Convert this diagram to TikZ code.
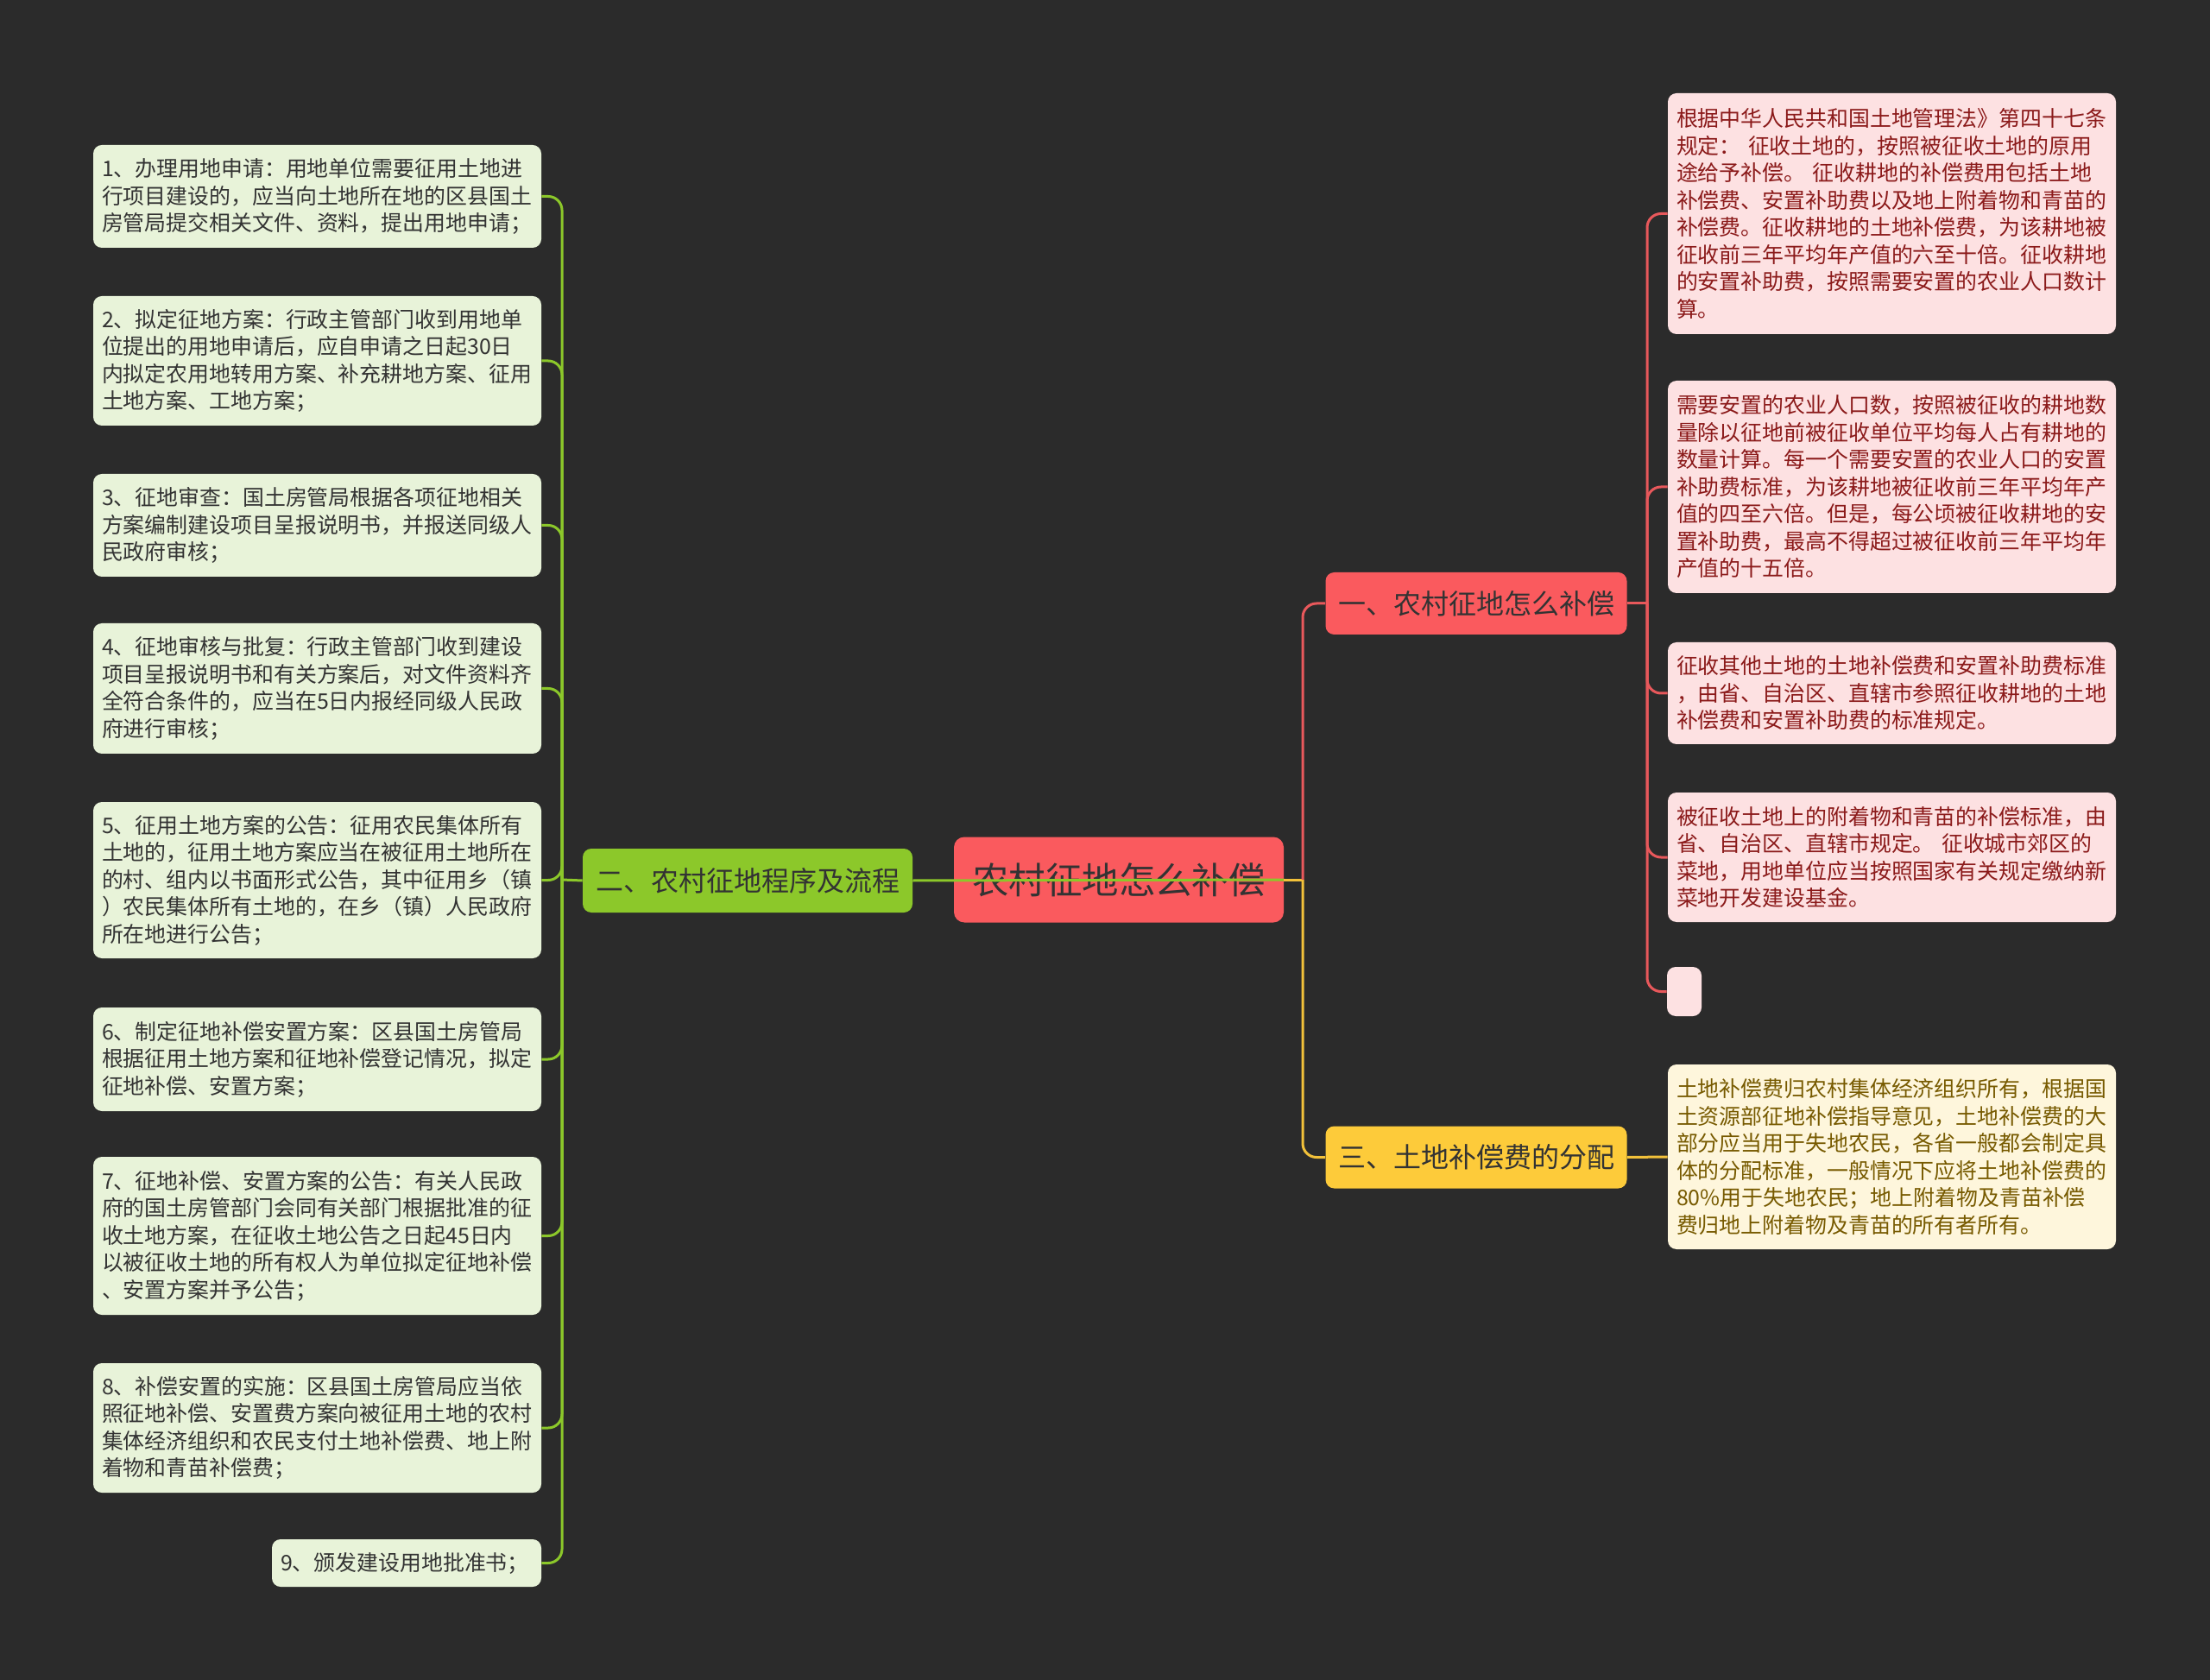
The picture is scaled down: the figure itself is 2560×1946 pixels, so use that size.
\documentclass[tikz,border=0pt]{standalone}
\usepackage{fontspec}
\setmainfont{Noto Sans CJK SC}
\definecolor{bgc}{HTML}{2B2B2B}
\definecolor{gmain}{HTML}{8CC82A}
\definecolor{gfill}{HTML}{E8F3D9}
\definecolor{rmain}{HTML}{FA5A5E}
\definecolor{rline}{HTML}{E8585B}
\definecolor{rfill}{HTML}{FDE1E2}
\definecolor{rtext}{HTML}{8B1A1A}
\definecolor{ymain}{HTML}{FDCB3A}
\definecolor{yline}{HTML}{F2C13A}
\definecolor{yfill}{HTML}{FEF6DC}
\definecolor{ytext}{HTML}{775A00}
\definecolor{dtext}{HTML}{333333}
\begin{document}
\begin{tikzpicture}[x=0.5pt,y=-0.5pt,
  leaf/.style={rounded corners=5pt, inner xsep=5pt, inner ysep=0pt, align=left,
    text width=249.5pt, font=\fontsize{12.45}{15.75}\selectfont, anchor=center},
  gleaf/.style={leaf, fill=gfill, text=dtext},
  rleaf/.style={leaf, fill=rfill, text=rtext},
  yleaf/.style={leaf, fill=yfill, text=ytext},
  branch/.style={rounded corners=5pt, inner sep=0pt, minimum width=174.5pt,
    minimum height=36pt, font=\fontsize{16}{19}\selectfont, text=dtext},
  gcon/.style={draw=gmain, line width=1.5pt, rounded corners=8pt},
  rcon/.style={draw=rline, line width=1.5pt, rounded corners=8pt},
  ycon/.style={draw=yline, line width=1.5pt, rounded corners=8pt}]
\useasboundingbox (0,0) rectangle (2560,1946);
\fill[bgc] (0,0) rectangle (2560,1946);

% central node
\node[rounded corners=6pt, fill=rmain, inner sep=0pt, minimum width=191pt, minimum height=49.5pt,
  font=\fontsize{21.2}{24}\selectfont, text=dtext] (c) at (1296,1019) {农村征地怎么补偿};

% junction coordinates
\coordinate (gj) at (651,1019);
\coordinate (cj) at (1509,1019);
\coordinate (rj) at (1908,699);

% branches
\node[branch, fill=gmain, minimum width=191pt, minimum height=37pt] (gb) at (866,1020) {二、农村征地程序及流程};
\node[branch, fill=rmain] (rb) at (1710,699) {一、农村征地怎么补偿};
\node[branch, fill=ymain] (yb) at (1710,1340.5) {三、土地补偿费的分配};

% green leaves
\node[gleaf, minimum height=59.5pt] (g1) at (367.5,227.5) {1、办理用地申请：用地单位需要征用土地进\\行项目建设的，应当向土地所在地的区县国土\\房管局提交相关文件、资料，提出用地申请；};
\node[gleaf, minimum height=75pt] (g2) at (367.5,418) {2、拟定征地方案：行政主管部门收到用地单\\位提出的用地申请后，应自申请之日起30日\\内拟定农用地转用方案、补充耕地方案、征用\\土地方案、工地方案；};
\node[gleaf, minimum height=59.5pt] (g3) at (367.5,608.5) {3、征地审查：国土房管局根据各项征地相关\\方案编制建设项目呈报说明书，并报送同级人\\民政府审核；};
\node[gleaf, minimum height=75.5pt] (g4) at (367.5,797.5) {4、征地审核与批复：行政主管部门收到建设\\项目呈报说明书和有关方案后，对文件资料齐\\全符合条件的，应当在5日内报经同级人民政\\府进行审核；};
\node[gleaf, minimum height=90.5pt] (g5) at (367.5,1019.5) {5、征用土地方案的公告：征用农民集体所有\\土地的，征用土地方案应当在被征用土地所在\\的村、组内以书面形式公告，其中征用乡（镇\\）农民集体所有土地的，在乡（镇）人民政府\\所在地进行公告；};
\node[gleaf, minimum height=60pt] (g6) at (367.5,1227) {6、制定征地补偿安置方案：区县国土房管局\\根据征用土地方案和征地补偿登记情况，拟定\\征地补偿、安置方案；};
\node[gleaf, minimum height=91.5pt] (g7) at (367.5,1431.5) {7、征地补偿、安置方案的公告：有关人民政\\府的国土房管部门会同有关部门根据批准的征\\收土地方案，在征收土地公告之日起45日内\\以被征收土地的所有权人为单位拟定征地补偿\\、安置方案并予公告；};
\node[gleaf, minimum height=75pt] (g8) at (367.5,1654) {8、补偿安置的实施：区县国土房管局应当依\\照征地补偿、安置费方案向被征用土地的农村\\集体经济组织和农民支付土地补偿费、地上附\\着物和青苗补偿费；};
\node[gleaf, text width=146pt, minimum height=27.5pt] (g9) at (471,1810.5) {9、颁发建设用地批准书；};

% red leaves
\node[rleaf, minimum height=139.5pt] (r1) at (2191.5,247.5) {根据中华人民共和国土地管理法》第四十七条\\规定： 征收土地的，按照被征收土地的原用\\途给予补偿。 征收耕地的补偿费用包括土地\\补偿费、安置补助费以及地上附着物和青苗的\\补偿费。征收耕地的土地补偿费，为该耕地被\\征收前三年平均年产值的六至十倍。征收耕地\\的安置补助费，按照需要安置的农业人口数计\\算。};
\node[rleaf, minimum height=123pt] (r2) at (2191.5,564) {需要安置的农业人口数，按照被征收的耕地数\\量除以征地前被征收单位平均每人占有耕地的\\数量计算。每一个需要安置的农业人口的安置\\补助费标准，为该耕地被征收前三年平均年产\\值的四至六倍。但是，每公顷被征收耕地的安\\置补助费，最高不得超过被征收前三年平均年\\产值的十五倍。};
\node[rleaf, minimum height=59pt] (r3) at (2191.5,803) {征收其他土地的土地补偿费和安置补助费标准\\，由省、自治区、直辖市参照征收耕地的土地\\补偿费和安置补助费的标准规定。};
\node[rleaf, minimum height=75pt] (r4) at (2191.5,993) {被征收土地上的附着物和青苗的补偿标准，由\\省、自治区、直辖市规定。 征收城市郊区的\\菜地，用地单位应当按照国家有关规定缴纳新\\菜地开发建设基金。};
\node[rounded corners=5pt, fill=rfill, inner sep=0pt, minimum width=20pt, minimum height=28.5pt] (r5) at (1951,1148.5) {};

% yellow leaf
\node[yleaf, minimum height=107pt] (y1) at (2191.5,1340) {土地补偿费归农村集体经济组织所有，根据国\\土资源部征地补偿指导意见，土地补偿费的大\\部分应当用于失地农民，各省一般都会制定具\\体的分配标准，一般情况下应将土地补偿费的\\80\%用于失地农民；地上附着物及青苗补偿\\费归地上附着物及青苗的所有者所有。};

% connectors: center
\draw[gcon] (gb.east) -- (c.east);
\draw[ycon] (c.east) -- (cj);
\draw[rcon] (cj) |- (rb.west);
\draw[ycon] (cj) |- (yb.west);

% green
\draw[gcon] (gb.west) -- (gj);
\foreach \n in {g1,g2,g3,g4,g5,g6,g7,g8,g9} { \draw[gcon] (gj) |- (\n.east); }

% red
\draw[rcon] (rb.east) -- (rj);
\foreach \n in {r1,r2,r3,r4,r5} { \draw[rcon] (rj) |- (\n.west); }

% yellow
\draw[ycon] (yb.east) -- (y1.west);
\end{tikzpicture}
\end{document}
